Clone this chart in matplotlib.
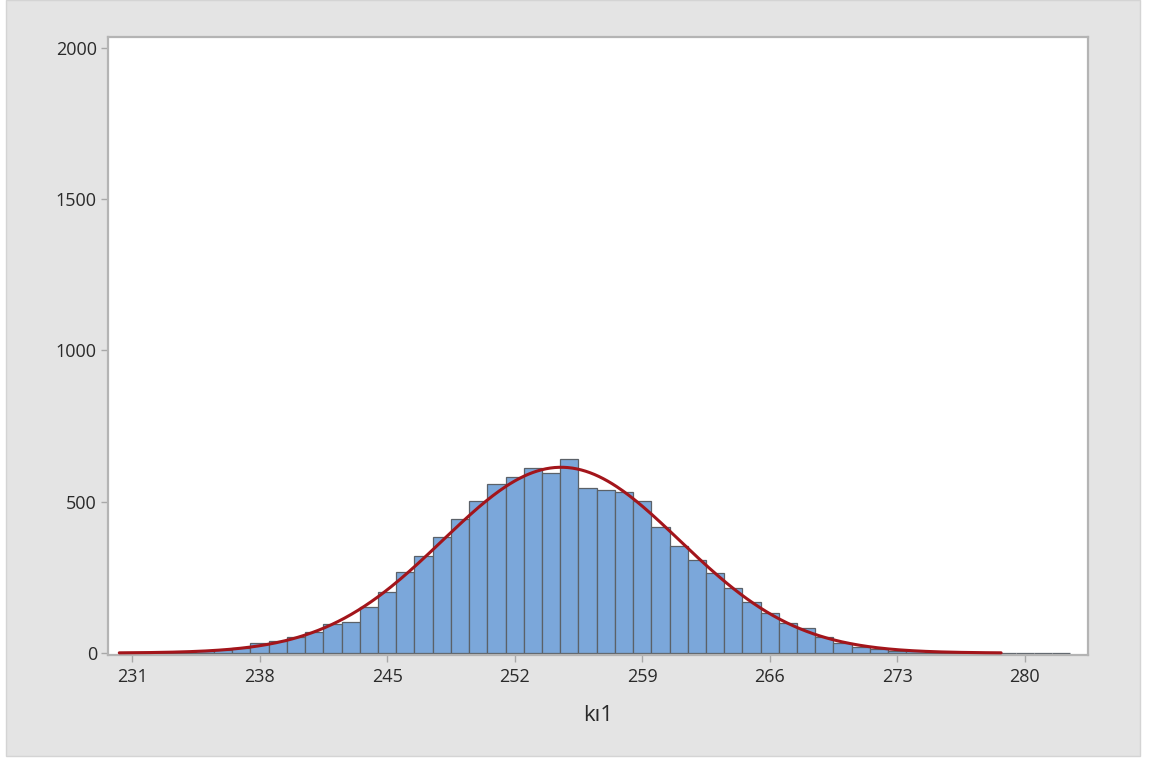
import numpy as np
import matplotlib
matplotlib.use("Agg")
import matplotlib.pyplot as plt
from matplotlib.patches import Rectangle

# ---- data ----
bin_centers = list(range(231, 283))
counts = [1, 1, 2, 4, 6, 10, 17,            # 231-237
          32, 40, 54, 71, 95, 104, 153, 200,  # 238-245
          269, 319, 385, 442, 504, 558, 583, 613,  # 246-253
          595, 642, 544, 540, 533, 503, 416, 354,  # 254-261
          306, 266, 214, 168, 131, 100, 82, 54,    # 262-269
          34, 21, 13, 8, 5, 3, 2, 1,               # 270-277
          1, 1, 0, 1, 1]                           # 278-282
fit_mean = 254.55
fit_sd = 6.5
curve_lo, curve_hi = 230.3, 278.7
x_ticks = [231, 238, 245, 252, 259, 266, 273, 280]
y_ticks = [0, 500, 1000, 1500, 2000]
x_label = "kı1"

plt.rcParams['font.family'] = ['Open Sans', 'DejaVu Sans']

W, H = 1152, 758
fig = plt.figure(figsize=(W / 100, H / 100), dpi=100, facecolor="white")
bg = Rectangle((6 / W, 1 - 756 / H), 1134 / W, 756 / H,
               transform=fig.transFigure, facecolor="#e4e4e4",
               edgecolor="#d4d4d4", linewidth=1.0, zorder=-10)
fig.add_artist(bg)

ax = fig.add_axes([108 / W, 1 - 655 / H, 980 / W, 618 / H])
ax.set_zorder(1)
ax.set_facecolor("white")

ax.bar(bin_centers, counts, width=1.0, color="#7ba7da", edgecolor="#5b6168",
       linewidth=0.9, zorder=2)

n_total = sum(counts)
xs = np.linspace(curve_lo, curve_hi, 400)
ys = n_total * 1.0 / (fit_sd * np.sqrt(2 * np.pi)) * np.exp(-0.5 * ((xs - fit_mean) / fit_sd) ** 2)
ax.plot(xs, ys, color="#a3151b", linewidth=2.2, zorder=3, solid_capstyle="round")

ax.set_xlim(229.68, 283.47)
ax.set_ylim(-6.6, 2036)
ax.set_xticks(x_ticks)
ax.set_yticks(y_ticks)
ax.set_xticklabels([str(t) for t in x_ticks])
ax.set_yticklabels([str(t) for t in y_ticks])

for side in ["left", "bottom", "right", "top"]:
    ax.spines[side].set_color("#b4b4b4")
    ax.spines[side].set_linewidth(1.6)

ax.tick_params(axis="both", direction="out", length=5, width=1.0, color="#a8a8a8",
               labelsize=13, labelcolor="#2a2a2a")
ax.tick_params(axis="y", pad=3)
ax.tick_params(axis="x", pad=4)
ax.tick_params(axis="both", which="both", top=False, right=False)

ax.set_xlabel(x_label, fontsize=16, color="#2a2a2a", labelpad=14)

fig.savefig("out.png", dpi=100, facecolor=fig.get_facecolor())
